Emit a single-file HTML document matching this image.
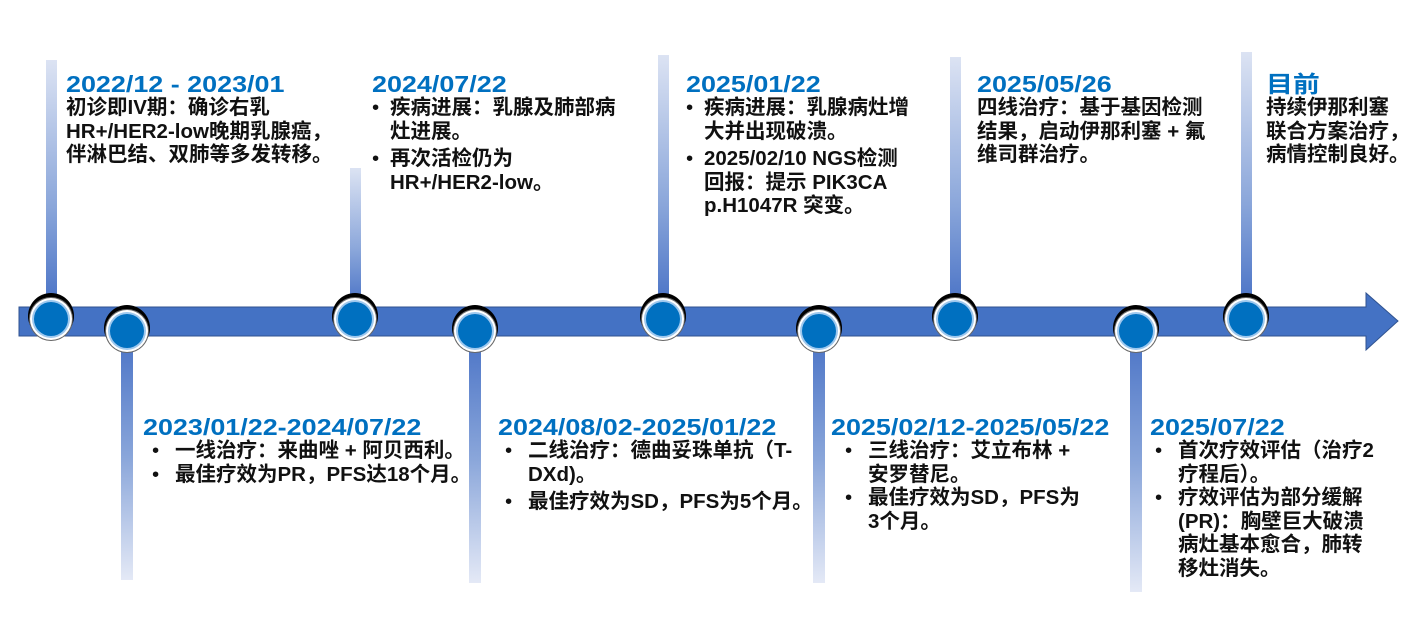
<!DOCTYPE html>
<html><head><meta charset="utf-8"><style>
body{margin:0;width:1405px;height:638px;background:#fff;position:relative;overflow:hidden;font-family:"Liberation Sans","Noto Sans CJK SC",sans-serif;font-weight:bold}
.vu{position:absolute;width:11px;background:linear-gradient(#dce3f3,#8aa6da 60%,#4a73c6)}
.vd{position:absolute;width:12px;background:linear-gradient(#4a73c6,#8aa6da 50%,#e4e9f6)}
.n{position:absolute;width:34px;height:34px;border-radius:50%;background:#0070c0;box-shadow:0 0 0 2px #9ec8ee,0 0 0 4px #fff,0 0 0 5px #666,0 -3px 0 6px #000;}
.t{position:absolute;color:#0070c0;font-size:23px;line-height:26px;white-space:nowrap;transform:scaleX(1.17);transform-origin:0 0}
.b{position:absolute;color:#111;font-size:20.5px;line-height:23.5px;white-space:nowrap}
.b p{margin:0;position:relative}
.b p:before{content:"•";position:absolute;font-weight:normal}
.u p{padding-left:18px}.u p:before{left:0}
.l p{padding-left:23px}.l p:before{left:0}
</style></head><body>
<div class="vu" style="left:46px;top:60px;height:245px"></div>
<div class="vu" style="left:350px;top:168px;height:137px"></div>
<div class="vu" style="left:658px;top:55px;height:250px"></div>
<div class="vu" style="left:950px;top:57px;height:248px"></div>
<div class="vu" style="left:1241px;top:52px;height:253px"></div>
<div class="vd" style="left:121px;top:335px;height:245px"></div>
<div class="vd" style="left:469px;top:335px;height:248px"></div>
<div class="vd" style="left:813px;top:335px;height:248px"></div>
<div class="vd" style="left:1130px;top:335px;height:257px"></div>
<svg style="position:absolute;left:0;top:0" width="1405" height="638">
<polygon points="19,307 1366,307 1366,293 1398,321 1366,350 1366,336 19,336" fill="#4472c4" stroke="#2f528f" stroke-width="1"/>
</svg>
<div class="n" style="left:34px;top:302px"></div>
<div class="n" style="left:110px;top:314px"></div>
<div class="n" style="left:338px;top:302px"></div>
<div class="n" style="left:458px;top:314px"></div>
<div class="n" style="left:646px;top:302px"></div>
<div class="n" style="left:802px;top:314px"></div>
<div class="n" style="left:938px;top:302px"></div>
<div class="n" style="left:1119px;top:314px"></div>
<div class="n" style="left:1229px;top:302px"></div>

<div class="t" style="left:66px;top:71px">2022/12 - 2023/01</div>
<div class="b" style="left:66px;top:96px">初诊即IV期：确诊右乳<br>HR+/HER2-low晚期乳腺癌，<br>伴淋巴结、双肺等多发转移。</div>

<div class="t" style="left:372px;top:71px">2024/07/22</div>
<div class="b u" style="left:372px;top:96px"><p>疾病进展：乳腺及肺部病<br>灶进展。</p><p style="margin-top:4px">再次活检仍为<br>HR+/HER2-low。</p></div>

<div class="t" style="left:686px;top:71px">2025/01/22</div>
<div class="b u" style="left:686px;top:96px"><p>疾病进展：乳腺病灶增<br>大并出现破溃。</p><p style="margin-top:4px">2025/02/10 NGS检测<br>回报：提示 PIK3CA<br>p.H1047R 突变。</p></div>

<div class="t" style="left:977px;top:71px">2025/05/26</div>
<div class="b" style="left:977px;top:96px">四线治疗：基于基因检测<br>结果，启动伊那利塞 + 氟<br>维司群治疗。</div>

<div class="t" style="left:1266px;top:71px">目前</div>
<div class="b" style="left:1266px;top:96px">持续伊那利塞<br>联合方案治疗，<br>病情控制良好。</div>

<div class="t" style="left:143px;top:414px">2023/01/22-2024/07/22</div>
<div class="b l" style="left:152px;top:439px"><p>一线治疗：来曲唑 + 阿贝西利。</p><p>最佳疗效为PR，PFS达18个月。</p></div>

<div class="t" style="left:498px;top:414px">2024/08/02-2025/01/22</div>
<div class="b l" style="left:505px;top:439px"><p>二线治疗：德曲妥珠单抗（T-<br>DXd)。</p><p style="margin-top:4px">最佳疗效为SD，PFS为5个月。</p></div>

<div class="t" style="left:831px;top:414px">2025/02/12-2025/05/22</div>
<div class="b l" style="left:845px;top:439px"><p>三线治疗：艾立布林 +<br>安罗替尼。</p><p>最佳疗效为SD，PFS为<br>3个月。</p></div>

<div class="t" style="left:1150px;top:414px">2025/07/22</div>
<div class="b l" style="left:1155px;top:439px"><p>首次疗效评估（治疗2<br>疗程后）。</p><p>疗效评估为部分缓解<br>(PR)：胸壁巨大破溃<br>病灶基本愈合，肺转<br>移灶消失。</p></div>
</body></html>
